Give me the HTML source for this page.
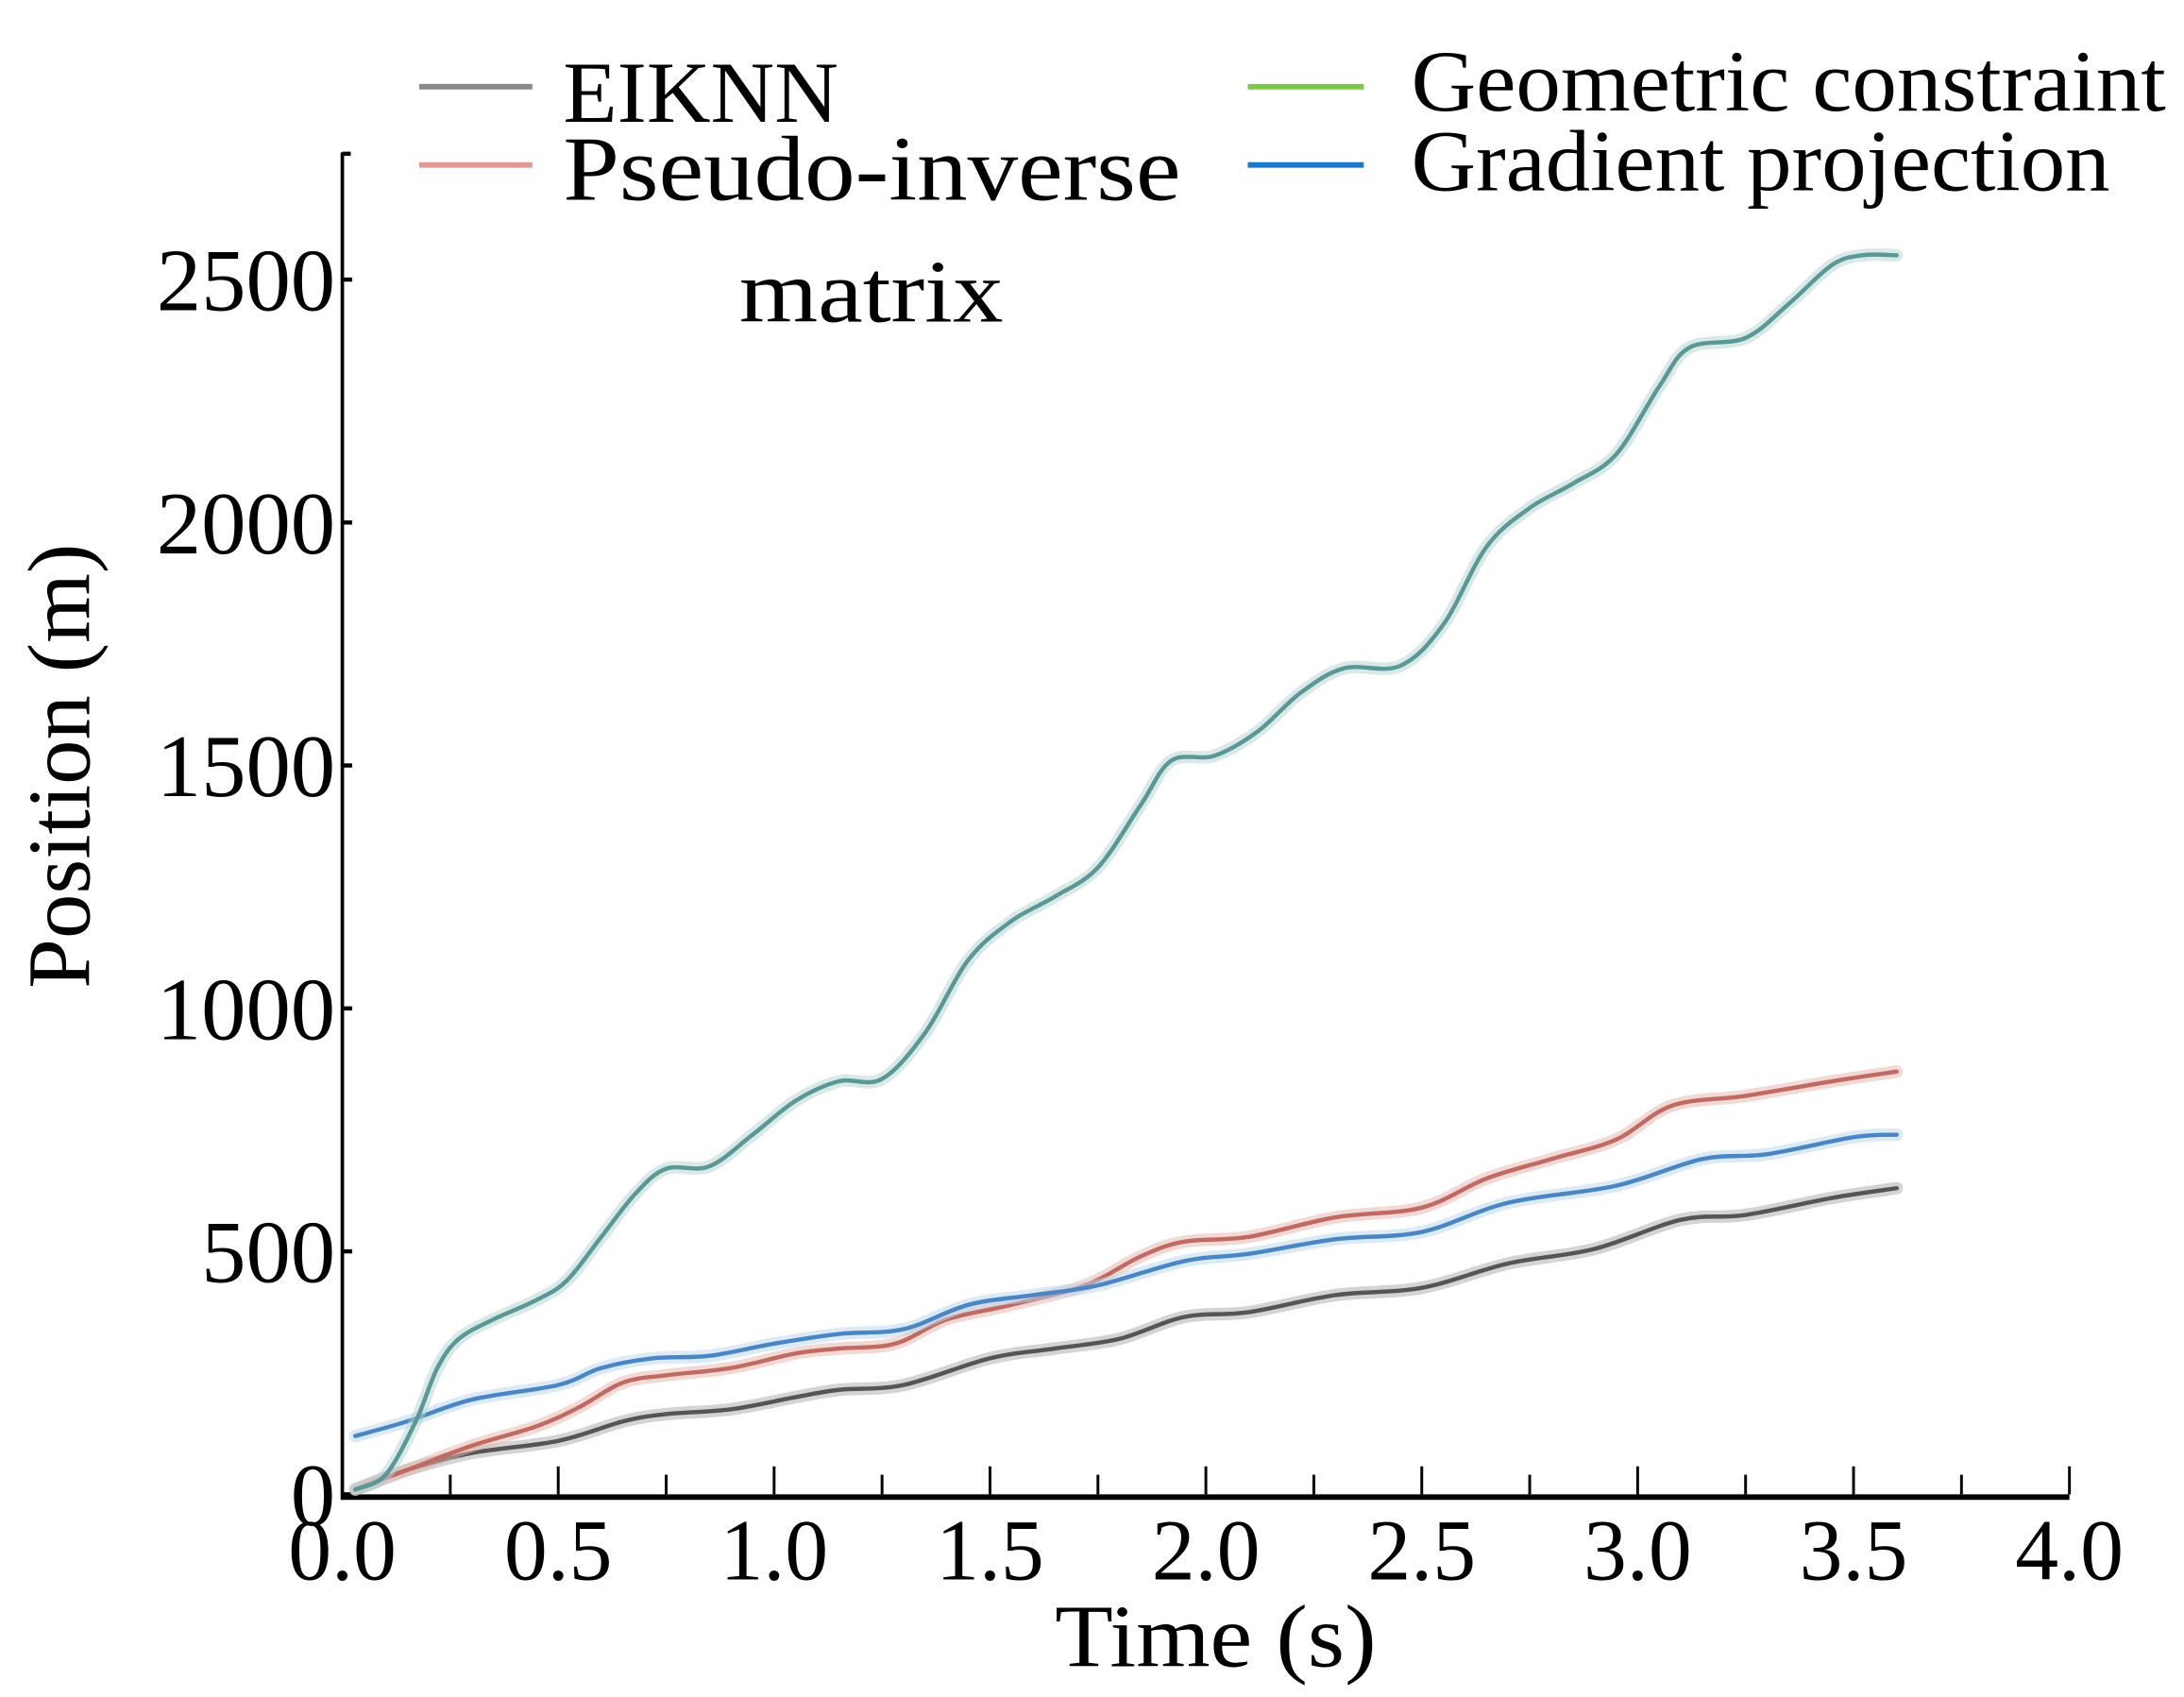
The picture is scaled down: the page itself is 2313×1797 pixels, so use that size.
<!DOCTYPE html>
<html><head><meta charset="utf-8"><style>
html,body{margin:0;padding:0;background:#fff;}
svg{display:block;}
text{font-family:"Liberation Serif",serif;fill:#000;}
</style></head><body>
<svg id="chart" width="2313" height="1797" viewBox="0 0 1563 1214" preserveAspectRatio="none" xmlns="http://www.w3.org/2000/svg">
<g id="legend">
  <g>
    <line x1="300" y1="62" x2="381" y2="62" stroke="#888" stroke-width="4"/>
    <text x="403" y="87" font-size="62" textLength="197" lengthAdjust="spacingAndGlyphs">EIKNN</text>
  </g>
  <g>
    <line x1="300" y1="118" x2="381" y2="118" stroke="#e09a94" stroke-width="4"/>
    <text x="403" y="143" font-size="66" textLength="442" lengthAdjust="spacingAndGlyphs">Pseudo-inverse</text>
    <text x="529" y="230" font-size="64" textLength="189" lengthAdjust="spacingAndGlyphs">matrix</text>
  </g>
  <g>
    <line x1="893" y1="62" x2="976" y2="62" stroke="#7cc84a" stroke-width="4"/>
    <text x="1010" y="79" font-size="62" textLength="540" lengthAdjust="spacingAndGlyphs">Geometric constraint</text>
  </g>
  <g>
    <line x1="893" y1="118" x2="976" y2="118" stroke="#1a78c8" stroke-width="4"/>
    <text x="1010" y="136" font-size="62" textLength="500" lengthAdjust="spacingAndGlyphs">Gradient projection</text>
  </g>
</g>
<g id="axes"></g>
<g id="series"></g>
<text x="755" y="1192" font-size="64" textLength="230" lengthAdjust="spacingAndGlyphs">Time  (s)</text>
<text transform="translate(64,548) rotate(-90)" font-size="64" text-anchor="middle">Position (m)</text>
</svg>
<script>
const xTicks = [0, 0.5, 1, 1.5, 2, 2.5, 3, 3.5, 4];
const xTickLabels = ["0.0","0.5","1.0","1.5","2.0","2.5","3.0","3.5","4.0"];
const yTicks = [0, 500, 1000, 1500, 2000, 2500];
const yTickLabels = ["0","500","1000","1500","2000","2500"];

const tealT = [0.03,0.1,0.17,0.22,0.27,0.35,0.45,0.52,0.6,0.68,0.75,0.85,0.95,1.05,1.15,1.25,1.35,1.45,1.55,1.65,1.75,1.85,1.92,2.02,2.12,2.22,2.32,2.45,2.55,2.65,2.75,2.85,2.95,3.05,3.12,3.25,3.35,3.45,3.52,3.6];
const tealV = [10,40,150,260,320,360,400,440,530,620,670,675,740,810,850,855,950,1100,1180,1230,1290,1420,1510,1520,1570,1650,1700,1705,1790,1950,2030,2080,2140,2280,2360,2380,2450,2530,2550,2550];
const blueT = [0.03,0.15,0.3,0.5,0.6,0.72,0.85,1.0,1.15,1.3,1.45,1.6,1.75,1.95,2.1,2.3,2.5,2.7,2.95,3.15,3.3,3.5,3.6];
const blueV = [120,150,195,225,260,280,285,310,330,340,390,410,430,480,495,525,540,600,635,690,700,735,740];
const redT = [0.03,0.15,0.3,0.45,0.55,0.65,0.75,0.9,1.05,1.15,1.28,1.4,1.55,1.72,1.85,1.95,2.1,2.3,2.5,2.65,2.8,2.95,3.08,3.25,3.45,3.6];
const redV = [10,50,100,140,180,230,245,260,290,300,310,360,390,430,490,520,530,570,590,650,690,730,800,820,850,870];
const blackT = [0.03,0.15,0.3,0.5,0.65,0.75,0.9,1.05,1.15,1.3,1.5,1.65,1.8,1.95,2.1,2.3,2.5,2.7,2.9,3.1,3.25,3.45,3.6];
const blackV = [10,50,85,110,150,165,175,200,215,225,280,300,320,365,375,410,425,475,505,565,575,610,630];

const NS = "http://www.w3.org/2000/svg";
const X0 = 245, X1 = 1481, Y0 = 1069, YTOP = 200;
function xs(t){ return X0 + (t/4)*(X1-X0); }
function ys(v){ return Y0 - (v/2500)*(Y0-YTOP); }
function mk(tag, attrs, parent){
  const e = document.createElementNS(NS, tag);
  for (const k in attrs) e.setAttribute(k, attrs[k]);
  parent.appendChild(e); return e;
}
const axes = document.getElementById('axes');
const xa = mk('line',{x1:X0,y1:Y0+2,x2:X1,y2:Y0+2,stroke:'#000','stroke-width':4},axes);


const ya = mk('line',{x1:X0,y1:Y0+4,x2:X0,y2:109,stroke:'#000','stroke-width':2.5},axes);


mk('line',{x1:X0,y1:110,x2:X0+6,y2:110,stroke:'#000','stroke-width':3},axes);
for (let i=0;i<=16;i++){
  const t = i*0.25;
  const tk = mk('line',{x1:xs(t),y1:Y0,x2:xs(t),y2:Y0-(i%2?14:20),stroke:'#000','stroke-width':2},axes);
  
  
}
xTicks.forEach((t,i)=>{
  const tx = mk('text',{x:xs(t),y:1130,'font-size':62,'text-anchor':'middle'},axes);
  tx.textContent = xTickLabels[i];
  
  
});
yTicks.forEach((v,i)=>{
  const tk = mk('line',{x1:X0,y1:ys(v),x2:X0+7,y2:ys(v),stroke:'#000','stroke-width':3},axes);
  
  
  const tx = mk('text',{x:X0-5,y:ys(v)+22,'font-size':64,'text-anchor':'end'},axes);
  tx.textContent = yTickLabels[i];
  
  
});
function pathD(T,V){
  const p = T.map((t,i)=>[xs(t),ys(V[i])]);
  let d = 'M'+p[0][0]+','+p[0][1];
  for (let i=0;i<p.length-1;i++){
    const a=p[Math.max(0,i-1)], b=p[i], c=p[i+1], e=p[Math.min(p.length-1,i+2)];
    const c1=[b[0]+(c[0]-a[0])/6, b[1]+(c[1]-a[1])/6];
    const c2=[c[0]-(e[0]-b[0])/6, c[1]-(e[1]-b[1])/6];
    d += ' C'+c1+' '+c2+' '+c;
  }
  return d;
}
const ser = document.getElementById('series');
function draw(T,V,color,halo,name){
  const g = mk('g',{},ser);
  
  
  mk('path',{d:pathD(T,V),fill:'none',stroke:halo,'stroke-width':9,'stroke-linecap':'round','opacity':0.5},g);
  mk('path',{d:pathD(T,V),fill:'none',stroke:color,'stroke-width':3,'stroke-linecap':'round'},g);
}
draw(blackT,blackV,'#555','#aaa','series-eiknn');
draw(redT,redV,'#c06a62','#e8b4ae','series-pseudo-inverse');
draw(blueT,blueV,'#4a86c4','#b6d6f0','series-gradient-projection');
draw(tealT,tealV,'#5a9896','#b4d4d2','series-geometric-constraint');
</script>
</body></html>
